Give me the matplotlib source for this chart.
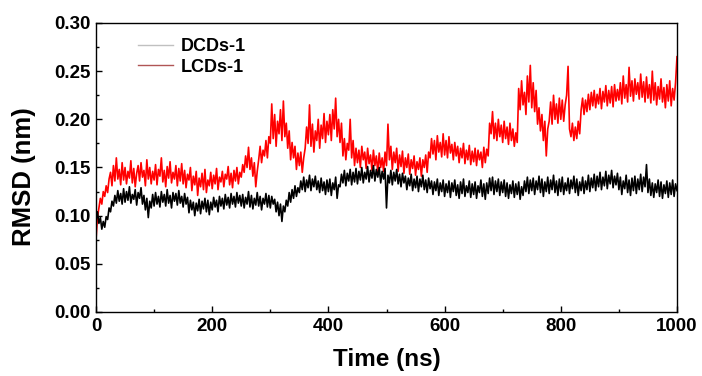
import numpy as np
import matplotlib
matplotlib.use("Agg")
import matplotlib.pyplot as plt
from matplotlib.lines import Line2D
from matplotlib.ticker import MultipleLocator, FormatStrFormatter

plt.rcParams['font.family'] = ['Liberation Sans', 'DejaVu Sans']
plt.rcParams['font.weight'] = 'bold'

# time axis, one sample every 2.5 ns
time_ns = np.arange(0, 1002.5, 2.5)

# red trace (20 values = 50 ns per row)
rmsd_red = [
    0.075, 0.098, 0.108, 0.118, 0.112, 0.125, 0.120, 0.131, 0.124, 0.138, 0.145, 0.131, 0.152, 0.136, 0.160, 0.138, 0.148, 0.132, 0.155, 0.137,
    0.150, 0.133, 0.146, 0.139, 0.157, 0.134, 0.149, 0.130, 0.144, 0.152, 0.136, 0.155, 0.140, 0.147, 0.131, 0.158, 0.138, 0.150, 0.133, 0.146,
    0.137, 0.153, 0.132, 0.148, 0.141, 0.160, 0.135, 0.147, 0.130, 0.151, 0.139, 0.156, 0.134, 0.145, 0.138, 0.152, 0.131, 0.149, 0.136, 0.154,
    0.133, 0.147, 0.129, 0.143, 0.137, 0.150, 0.126, 0.141, 0.132, 0.146, 0.121, 0.139, 0.130, 0.144, 0.127, 0.148, 0.124, 0.137, 0.131, 0.145,
    0.128, 0.142, 0.133, 0.149, 0.127, 0.140, 0.135, 0.146, 0.130, 0.143, 0.138, 0.151, 0.132, 0.144, 0.129, 0.147, 0.136, 0.150, 0.133, 0.145,
    0.140, 0.153, 0.145, 0.162, 0.150, 0.171, 0.148, 0.160, 0.141, 0.155, 0.130, 0.146, 0.158, 0.172, 0.155, 0.168, 0.162, 0.178, 0.160, 0.182,
    0.175, 0.216, 0.180, 0.205, 0.172, 0.198, 0.185, 0.210, 0.178, 0.219, 0.182, 0.196, 0.170, 0.188, 0.158, 0.176, 0.160, 0.172, 0.148, 0.165,
    0.152, 0.166, 0.145, 0.160, 0.170, 0.192, 0.175, 0.215, 0.172, 0.195, 0.166, 0.188, 0.178, 0.200, 0.170, 0.194, 0.180, 0.206, 0.176, 0.198,
    0.184, 0.205, 0.178, 0.210, 0.190, 0.222, 0.182, 0.200, 0.176, 0.196, 0.162, 0.180, 0.158, 0.175, 0.168, 0.200, 0.160, 0.178, 0.152, 0.170,
    0.155, 0.168, 0.150, 0.172, 0.158, 0.166, 0.149, 0.170, 0.154, 0.163, 0.147, 0.168, 0.152, 0.162, 0.145, 0.165, 0.150, 0.160, 0.146, 0.166,
    0.152, 0.195, 0.158, 0.172, 0.148, 0.166, 0.155, 0.170, 0.146, 0.163, 0.151, 0.167, 0.144, 0.160, 0.150, 0.164, 0.143, 0.158, 0.149, 0.162,
    0.142, 0.156, 0.148, 0.160, 0.141, 0.158, 0.150, 0.163, 0.145, 0.166, 0.160, 0.180, 0.164, 0.178, 0.158, 0.183, 0.166, 0.176, 0.161, 0.185,
    0.163, 0.178, 0.160, 0.182, 0.165, 0.174, 0.158, 0.176, 0.162, 0.172, 0.155, 0.170, 0.160, 0.175, 0.154, 0.168, 0.158, 0.173, 0.153, 0.167,
    0.156, 0.170, 0.152, 0.168, 0.158, 0.166, 0.150, 0.171, 0.155, 0.169, 0.162, 0.196, 0.185, 0.208, 0.180, 0.196, 0.178, 0.200, 0.182, 0.194,
    0.176, 0.198, 0.180, 0.192, 0.174, 0.196, 0.178, 0.190, 0.172, 0.186, 0.176, 0.232, 0.210, 0.240, 0.215, 0.228, 0.205, 0.245, 0.218, 0.256,
    0.212, 0.238, 0.208, 0.230, 0.195, 0.212, 0.188, 0.205, 0.178, 0.198, 0.162, 0.190, 0.198, 0.218, 0.195, 0.225, 0.200, 0.216, 0.196, 0.222,
    0.200, 0.220, 0.198, 0.215, 0.225, 0.255, 0.190, 0.182, 0.196, 0.178, 0.192, 0.180, 0.198, 0.185, 0.210, 0.222, 0.205, 0.220, 0.208, 0.226,
    0.210, 0.228, 0.214, 0.230, 0.212, 0.226, 0.216, 0.232, 0.211, 0.229, 0.218, 0.235, 0.214, 0.230, 0.217, 0.234, 0.213, 0.236, 0.219, 0.231,
    0.220, 0.238, 0.216, 0.245, 0.222, 0.236, 0.218, 0.254, 0.224, 0.240, 0.219, 0.242, 0.226, 0.238, 0.221, 0.247, 0.223, 0.239, 0.218, 0.244,
    0.222, 0.236, 0.217, 0.250, 0.220, 0.238, 0.215, 0.234, 0.221, 0.242, 0.218, 0.233, 0.212, 0.236, 0.219, 0.240, 0.214, 0.232, 0.220, 0.238,
    0.265,
]

# black trace
rmsd_black = [
    0.095, 0.104, 0.092, 0.098, 0.086, 0.094, 0.088, 0.099, 0.096, 0.108, 0.104, 0.115, 0.110, 0.121, 0.113, 0.126, 0.115, 0.123, 0.112, 0.128,
    0.114, 0.125, 0.116, 0.130, 0.113, 0.122, 0.117, 0.127, 0.111, 0.124, 0.118, 0.129, 0.112, 0.121, 0.106, 0.118, 0.098, 0.115, 0.108, 0.122,
    0.110, 0.124, 0.112, 0.120, 0.109, 0.125, 0.114, 0.122, 0.110, 0.127, 0.113, 0.121, 0.108, 0.124, 0.115, 0.123, 0.111, 0.126, 0.113, 0.120,
    0.109, 0.123, 0.112, 0.119, 0.103, 0.116, 0.106, 0.114, 0.100, 0.113, 0.105, 0.117, 0.102, 0.115, 0.107, 0.118, 0.104, 0.116, 0.101, 0.114,
    0.106, 0.119, 0.109, 0.116, 0.104, 0.120, 0.110, 0.118, 0.107, 0.122, 0.111, 0.119, 0.108, 0.123, 0.112, 0.120, 0.109, 0.124, 0.113, 0.121,
    0.110, 0.122, 0.108, 0.119, 0.112, 0.125, 0.109, 0.121, 0.107, 0.118, 0.111, 0.124, 0.110, 0.120, 0.106, 0.118, 0.112, 0.123, 0.109, 0.121,
    0.108, 0.120, 0.112, 0.117, 0.104, 0.114, 0.100, 0.112, 0.094, 0.110, 0.104, 0.116, 0.110, 0.124, 0.114, 0.127, 0.118, 0.131, 0.120, 0.129,
    0.124, 0.136, 0.127, 0.140, 0.125, 0.137, 0.129, 0.142, 0.126, 0.138, 0.130, 0.141, 0.127, 0.136, 0.124, 0.139, 0.126, 0.135, 0.122, 0.137,
    0.125, 0.138, 0.121, 0.134, 0.127, 0.140, 0.118, 0.132, 0.130, 0.143, 0.134, 0.147, 0.131, 0.144, 0.136, 0.148, 0.132, 0.145, 0.135, 0.149,
    0.133, 0.146, 0.137, 0.150, 0.134, 0.145, 0.138, 0.151, 0.135, 0.147, 0.139, 0.152, 0.136, 0.148, 0.140, 0.150, 0.134, 0.146, 0.138, 0.149,
    0.108, 0.142, 0.134, 0.147, 0.132, 0.145, 0.136, 0.148, 0.133, 0.143, 0.130, 0.144, 0.134, 0.141, 0.127, 0.139, 0.131, 0.143, 0.126, 0.138,
    0.129, 0.141, 0.125, 0.138, 0.130, 0.142, 0.127, 0.137, 0.124, 0.139, 0.128, 0.136, 0.122, 0.135, 0.126, 0.138, 0.121, 0.134, 0.125, 0.137,
    0.120, 0.133, 0.124, 0.136, 0.119, 0.134, 0.125, 0.137, 0.121, 0.132, 0.118, 0.135, 0.123, 0.138, 0.120, 0.131, 0.124, 0.136, 0.119, 0.133,
    0.122, 0.135, 0.118, 0.131, 0.124, 0.137, 0.120, 0.133, 0.117, 0.134, 0.123, 0.139, 0.126, 0.140, 0.122, 0.136, 0.125, 0.138, 0.121, 0.135,
    0.124, 0.137, 0.120, 0.134, 0.118, 0.132, 0.123, 0.136, 0.119, 0.133, 0.122, 0.135, 0.117, 0.130, 0.121, 0.136, 0.125, 0.140, 0.123, 0.137,
    0.126, 0.139, 0.122, 0.136, 0.127, 0.141, 0.124, 0.138, 0.120, 0.135, 0.125, 0.140, 0.123, 0.137, 0.127, 0.142, 0.124, 0.136, 0.121, 0.138,
    0.125, 0.140, 0.122, 0.134, 0.126, 0.139, 0.123, 0.137, 0.128, 0.141, 0.124, 0.138, 0.121, 0.135, 0.126, 0.140, 0.123, 0.136, 0.127, 0.142,
    0.125, 0.139, 0.129, 0.143, 0.126, 0.141, 0.130, 0.145, 0.127, 0.140, 0.131, 0.146, 0.128, 0.142, 0.133, 0.147, 0.129, 0.141, 0.132, 0.144,
    0.127, 0.140, 0.122, 0.136, 0.128, 0.142, 0.124, 0.137, 0.121, 0.139, 0.126, 0.141, 0.123, 0.138, 0.127, 0.143, 0.125, 0.140, 0.130, 0.153,
    0.124, 0.138, 0.121, 0.134, 0.119, 0.133, 0.124, 0.137, 0.120, 0.135, 0.118, 0.132, 0.123, 0.136, 0.119, 0.134, 0.122, 0.137, 0.120, 0.133,
    0.126,
]

labels = ["DCDs-1", "LCDs-1"]
legend_colors = ["#c0c0c0", "#b05555"]

fig = plt.figure(figsize=(7.02, 3.76), dpi=100)
ax = fig.add_axes([96 / 702, 1 - 312 / 376, 581 / 702, 289 / 376])

ax.plot(time_ns, rmsd_red, color="#ff0000", lw=1.2)
ax.plot(time_ns, rmsd_black, color="#000000", lw=1.2)

ax.set_xlim(0, 1000)
ax.set_ylim(0, 0.30)
ax.xaxis.set_major_locator(MultipleLocator(200))
ax.xaxis.set_minor_locator(MultipleLocator(100))
ax.yaxis.set_major_locator(MultipleLocator(0.05))
ax.yaxis.set_minor_locator(MultipleLocator(0.025))
ax.yaxis.set_major_formatter(FormatStrFormatter('%.2f'))
ax.tick_params(which='both', direction='in', top=False, right=False,
               labelsize=13.5, width=1, pad=4)
ax.tick_params(which='major', length=4)
ax.tick_params(which='minor', length=2.5)
for s in ax.spines.values():
    s.set_linewidth(1)

ax.set_xlabel("Time (ns)", fontsize=17.5, fontweight='bold', labelpad=10)
ax.set_ylabel("RMSD (nm)", fontsize=18.5, fontweight='bold')
ax.yaxis.set_label_coords(-0.103, 0.47)

handles = [Line2D([], [], color=c, lw=1) for c in legend_colors]
ax.legend(handles, labels, loc='upper left', bbox_to_anchor=(0.072, 0.948),
          frameon=False, handlelength=1.95, handletextpad=0.4,
          labelspacing=0.2, borderpad=0, borderaxespad=0,
          prop={'weight': 'bold', 'size': 13})

fig.savefig("out.png", dpi=100)
